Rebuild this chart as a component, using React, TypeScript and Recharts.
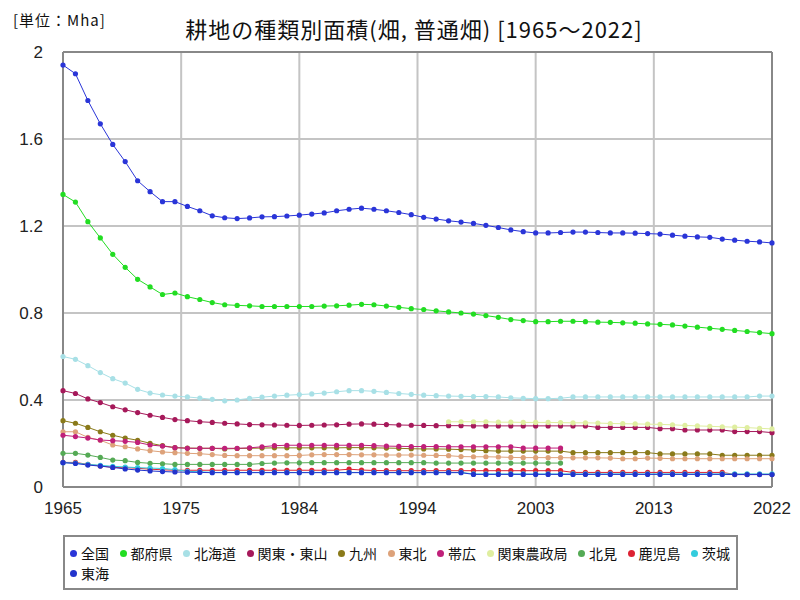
import React from "react";
import { LineChart, Line, XAxis, YAxis, CartesianGrid, ReferenceLine } from "recharts";

const years: number[] = Array.from({ length: 58 }, (_, i) => 1965 + i);

const zenkoku = [1.94, 1.9, 1.777, 1.67, 1.575, 1.496, 1.408, 1.358, 1.312, 1.312, 1.29, 1.27, 1.247, 1.238, 1.234, 1.237, 1.242, 1.243, 1.246, 1.25, 1.255, 1.26, 1.27, 1.277, 1.282, 1.277, 1.27, 1.262, 1.252, 1.24, 1.232, 1.224, 1.218, 1.212, 1.203, 1.193, 1.182, 1.174, 1.168, 1.168, 1.17, 1.172, 1.172, 1.17, 1.168, 1.168, 1.167, 1.165, 1.163, 1.158, 1.153, 1.15, 1.148, 1.14, 1.135, 1.13, 1.127, 1.122];
const tofuken = [1.345, 1.31, 1.22, 1.145, 1.07, 1.01, 0.955, 0.92, 0.885, 0.892, 0.875, 0.862, 0.848, 0.838, 0.835, 0.833, 0.83, 0.83, 0.83, 0.83, 0.83, 0.832, 0.833, 0.836, 0.84, 0.838, 0.832, 0.826, 0.82, 0.816, 0.81, 0.805, 0.8, 0.795, 0.788, 0.78, 0.77, 0.765, 0.76, 0.76, 0.762, 0.762, 0.76, 0.758, 0.757, 0.755, 0.753, 0.75, 0.748, 0.745, 0.74, 0.735, 0.73, 0.725, 0.72, 0.715, 0.71, 0.705];
const hokkaido = [0.6, 0.587, 0.558, 0.526, 0.498, 0.478, 0.449, 0.432, 0.423, 0.418, 0.414, 0.409, 0.403, 0.396, 0.4, 0.408, 0.413, 0.418, 0.422, 0.425, 0.428, 0.432, 0.438, 0.443, 0.443, 0.44, 0.435, 0.43, 0.426, 0.422, 0.42, 0.418, 0.417, 0.416, 0.416, 0.414, 0.41, 0.408, 0.406, 0.406, 0.408, 0.414, 0.414, 0.414, 0.414, 0.414, 0.414, 0.414, 0.414, 0.414, 0.414, 0.414, 0.414, 0.414, 0.414, 0.414, 0.418, 0.418];
const kantoTozan = [0.443, 0.43, 0.405, 0.388, 0.369, 0.355, 0.342, 0.33, 0.32, 0.31, 0.305, 0.3, 0.297, 0.293, 0.29, 0.287, 0.286, 0.285, 0.284, 0.283, 0.284, 0.285, 0.286, 0.289, 0.29, 0.289, 0.287, 0.285, 0.284, 0.283, 0.282, 0.282, 0.282, 0.281, 0.281, 0.281, 0.281, 0.281, 0.281, 0.281, 0.281, 0.281, 0.281, 0.274, 0.274, 0.274, 0.274, 0.274, 0.268, 0.268, 0.262, 0.262, 0.262, 0.262, 0.255, 0.255, 0.255, 0.25];
const kyushu = [0.305, 0.293, 0.274, 0.254, 0.238, 0.225, 0.215, 0.201, 0.19, 0.181, 0.179, 0.178, 0.178, 0.175, 0.177, 0.178, 0.179, 0.18, 0.18, 0.18, 0.18, 0.18, 0.18, 0.181, 0.181, 0.18, 0.179, 0.178, 0.176, 0.175, 0.175, 0.174, 0.172, 0.17, 0.167, 0.165, 0.165, 0.165, 0.165, 0.165, 0.165, 0.158, 0.158, 0.158, 0.158, 0.158, 0.158, 0.158, 0.152, 0.152, 0.152, 0.152, 0.152, 0.146, 0.146, 0.146, 0.146, 0.146];
const tohoku = [0.254, 0.254, 0.228, 0.215, 0.193, 0.185, 0.175, 0.167, 0.161, 0.158, 0.155, 0.153, 0.149, 0.145, 0.144, 0.144, 0.144, 0.144, 0.144, 0.145, 0.148, 0.149, 0.149, 0.149, 0.148, 0.148, 0.147, 0.147, 0.147, 0.146, 0.145, 0.144, 0.14, 0.139, 0.139, 0.138, 0.136, 0.135, 0.135, 0.135, 0.135, 0.134, 0.134, 0.134, 0.133, 0.13, 0.13, 0.133, 0.132, 0.13, 0.13, 0.13, 0.13, 0.13, 0.13, 0.13, 0.13, 0.13];
const obihiro = [0.238, 0.232, 0.225, 0.216, 0.213, 0.21, 0.205, 0.193, 0.188, 0.181, 0.178, 0.178, 0.178, 0.178, 0.178, 0.18, 0.185, 0.19, 0.192, 0.192, 0.192, 0.192, 0.192, 0.192, 0.192, 0.19, 0.188, 0.187, 0.186, 0.186, 0.186, 0.185, 0.185, 0.185, 0.185, 0.185, 0.185, 0.179, 0.179, 0.179, 0.179, null, null, null, null, null, null, null, null, null, null, null, null, null, null, null, null, null];
const kantoNoseikyoku = [null, null, null, null, null, null, null, null, null, null, null, null, null, null, null, null, null, null, null, null, null, null, null, null, null, null, null, null, null, null, null, 0.3, 0.3, 0.3, 0.3, 0.298, 0.298, 0.297, 0.297, 0.297, 0.296, 0.295, 0.295, 0.294, 0.292, 0.291, 0.29, 0.289, 0.288, 0.286, 0.283, 0.281, 0.279, 0.277, 0.275, 0.273, 0.27, 0.267];
const kitami = [0.155, 0.155, 0.147, 0.136, 0.124, 0.121, 0.113, 0.109, 0.107, 0.104, 0.104, 0.104, 0.104, 0.104, 0.104, 0.104, 0.108, 0.11, 0.111, 0.111, 0.112, 0.112, 0.112, 0.112, 0.112, 0.112, 0.112, 0.112, 0.112, 0.112, 0.11, 0.11, 0.11, 0.11, 0.11, 0.11, 0.11, 0.11, 0.11, 0.11, 0.11, null, null, null, null, null, null, null, null, null, null, null, null, null, null, null, null, null];
const kagoshima = [0.113, 0.113, 0.104, 0.097, 0.09, 0.089, 0.086, 0.082, 0.079, 0.077, 0.077, 0.077, 0.077, 0.077, 0.077, 0.077, 0.077, 0.077, 0.077, 0.077, 0.077, 0.077, 0.077, 0.082, 0.078, 0.076, 0.075, 0.075, 0.075, 0.075, 0.075, 0.075, 0.075, 0.075, 0.075, 0.075, 0.075, 0.075, 0.075, 0.075, 0.075, 0.067, 0.067, 0.067, 0.067, 0.067, 0.067, 0.067, 0.067, 0.067, 0.067, 0.067, 0.067, 0.067, 0.058, 0.058, 0.058, 0.058];
const ibaraki = [0.112, 0.11, 0.104, 0.1, 0.095, 0.092, 0.089, 0.087, 0.085, 0.08, 0.072, 0.07, 0.067, 0.067, 0.067, 0.067, 0.067, 0.067, 0.067, 0.067, 0.067, 0.067, 0.067, 0.067, 0.067, 0.067, 0.067, 0.067, 0.067, 0.067, 0.067, 0.067, 0.067, 0.06, 0.06, 0.06, 0.06, 0.06, 0.06, 0.06, 0.06, 0.06, 0.06, 0.06, 0.06, 0.06, 0.06, 0.06, 0.06, 0.06, 0.06, 0.06, 0.06, 0.06, 0.06, 0.06, 0.06, 0.06];
const tokai = [0.112, 0.108, 0.101, 0.096, 0.09, 0.083, 0.078, 0.074, 0.071, 0.069, 0.068, 0.067, 0.066, 0.066, 0.066, 0.066, 0.066, 0.066, 0.066, 0.066, 0.066, 0.066, 0.066, 0.066, 0.066, 0.066, 0.066, 0.066, 0.066, 0.066, 0.066, 0.066, 0.066, 0.058, 0.058, 0.058, 0.058, 0.058, 0.058, 0.058, 0.058, 0.058, 0.058, 0.058, 0.058, 0.058, 0.058, 0.058, 0.058, 0.058, 0.058, 0.058, 0.058, 0.058, 0.057, 0.057, 0.057, 0.057];

const seriesNames = ["全国", "都府県", "北海道", "関東・東山", "九州", "東北", "帯広", "関東農政局", "北見", "鹿児島", "茨城", "東海"];
const seriesValues = [zenkoku, tofuken, hokkaido, kantoTozan, kyushu, tohoku, obihiro, kantoNoseikyoku, kitami, kagoshima, ibaraki, tokai];
const seriesColors = ["#2a35d8", "#22dd22", "#a8e0e6", "#a6195a", "#8a7a1a", "#dda27a", "#c0207a", "#dfeea0", "#55aa55", "#dd2233", "#33ccdd", "#2233cc"];

const xTicks = [1965, 1974.5, 1984, 1993.5, 2003, 2012.5, 2022];
const yTicks = [0, 0.4, 0.8, 1.2, 1.6, 2];

const title = "耕地の種類別面積(畑, 普通畑) [1965～2022]";
const unitLabel = "[単位：Mha]";

const data = years.map((year, i) => {
  const row: Record<string, number | null> = { year };
  seriesNames.forEach((name, s) => {
    row[name] = seriesValues[s][i];
  });
  return row;
});

const FONT = "'Noto Sans CJK JP', 'Noto Sans', sans-serif";
const NUMFONT = "'Liberation Sans', Arial, sans-serif";

function LegendRow({ idx }: { idx: number[] }) {
  return (
    <div style={{ display: "flex", alignItems: "center", height: 20, whiteSpace: "nowrap" }}>
      {idx.map((i) => (
        <div key={i} style={{ display: "flex", alignItems: "center", marginRight: 10.5 }}>
          <span
            style={{
              display: "inline-block",
              width: 7,
              height: 7,
              borderRadius: "50%",
              background: seriesColors[i],
              marginRight: 4,
            }}
          />
          <span style={{ fontSize: 14, lineHeight: "20px", color: "#111" }}>{seriesNames[i]}</span>
        </div>
      ))}
    </div>
  );
}

export default function App() {
  const row1 = seriesNames.map((_, i) => i).slice(0, 11);
  const row2 = seriesNames.map((_, i) => i).slice(11);
  return (
    <div style={{ position: "absolute", left: 0, top: 0, width: 800, height: 600, background: "#fff", fontFamily: FONT }}>
      <div style={{ position: "absolute", left: 13, top: 11, fontSize: 15, lineHeight: "18px", letterSpacing: 1, color: "#111" }}>
        {unitLabel}
      </div>
      <div
        style={{
          position: "absolute",
          left: 114,
          top: 16,
          width: 600,
          textAlign: "center",
          fontSize: 22,
          lineHeight: "24px",
          letterSpacing: 1,
          color: "#111",
        }}
      >
        {title}
      </div>
      <div style={{ position: "absolute", left: 0, top: 0 }}>
        <LineChart width={800} height={600} data={data} margin={{ top: 52, right: 28, left: 13, bottom: 83 }}>
          <CartesianGrid stroke="#c4c4c4" strokeWidth={2} />
          <XAxis
            dataKey="year"
            type="number"
            domain={[1965, 2022]}
            ticks={xTicks}
            tickFormatter={(v: number) => String(Math.round(v))}
            interval={0}
            height={30}
            tickLine={false}
            tickSize={0}
            tickMargin={15}
            axisLine={{ stroke: "#888", strokeWidth: 2 }}
            tick={{ fill: "#222", fontSize: 17, fontFamily: NUMFONT }}
          />
          <YAxis
            type="number"
            domain={[0, 2]}
            ticks={yTicks}
            interval={0}
            width={50}
            tickLine={false}
            tickSize={0}
            tickMargin={20}
            axisLine={{ stroke: "#888", strokeWidth: 2 }}
            tick={{ fill: "#222", fontSize: 17, fontFamily: NUMFONT }}
          />
          <ReferenceLine y={2} stroke="#888" strokeWidth={2} />
          <ReferenceLine x={2022} stroke="#888" strokeWidth={2} />
          {seriesNames.map((name, i) => (
            <Line
              key={name}
              dataKey={name}
              type="linear"
              stroke={seriesColors[i]}
              strokeWidth={1}
              dot={{ r: 2.6, fill: seriesColors[i], stroke: seriesColors[i], strokeWidth: 0 }}
              activeDot={false}
              connectNulls={false}
              isAnimationActive={false}
            />
          ))}
        </LineChart>
      </div>
      <div
        style={{
          position: "absolute",
          left: 63,
          top: 535,
          width: 675,
          height: 55,
          border: "2px solid #888",
          boxSizing: "border-box",
          padding: "6px 0 0 5px",
        }}
      >
        <LegendRow idx={row1} />
        <LegendRow idx={row2} />
      </div>
    </div>
  );
}
